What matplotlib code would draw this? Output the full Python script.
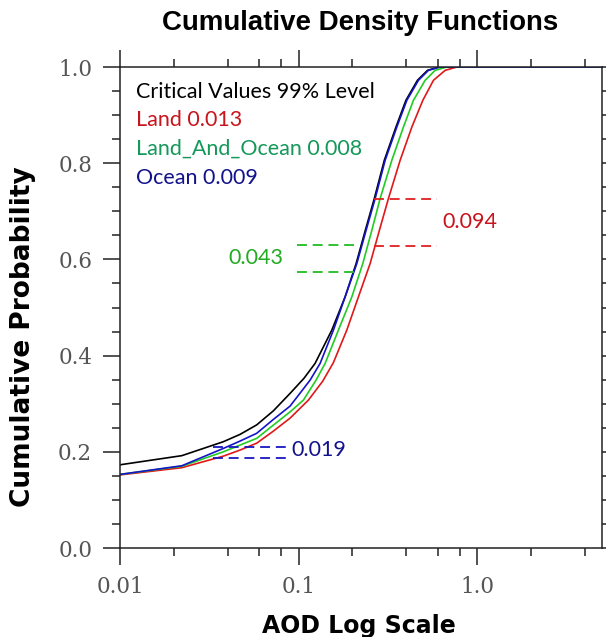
import matplotlib
matplotlib.use("Agg")
import matplotlib.pyplot as plt
from matplotlib.ticker import FixedLocator, NullFormatter

# curves (AOD, cumulative probability)
all_x = [0.01, 0.0222, 0.0379, 0.047, 0.0583, 0.0723, 0.0896, 0.1073, 0.1237, 0.1535, 0.1822,
         0.210, 0.2365, 0.2655, 0.302, 0.351, 0.399, 0.463, 0.527, 0.61, 5.0]
all_y = [0.173, 0.192, 0.221, 0.2362, 0.256, 0.2853, 0.3214, 0.353, 0.3838, 0.453, 0.5221,
         0.5915, 0.6607, 0.7266, 0.8061, 0.8753, 0.9308, 0.9724, 0.9931, 1.0, 1.0]

land_x = [0.01, 0.0222, 0.0379, 0.047, 0.0583, 0.0723, 0.0896, 0.1135, 0.1366, 0.1567, 0.1862,
          0.2163, 0.2516, 0.2836, 0.3185, 0.3704, 0.4308, 0.4963, 0.5692, 0.6619, 0.7694, 5.0]
land_y = [0.152, 0.167, 0.191, 0.2036, 0.218, 0.2431, 0.270, 0.3075, 0.347, 0.3855, 0.453,
          0.5221, 0.5915, 0.6607, 0.7266, 0.8061, 0.8753, 0.9308, 0.9724, 0.9931, 1.0, 1.0]

lando_x = [0.01, 0.0222, 0.0379, 0.047, 0.0583, 0.0723, 0.0896, 0.1064, 0.1253, 0.1408, 0.1671,
           0.1987, 0.2289, 0.2572, 0.2862, 0.3327, 0.3865, 0.4397, 0.5112, 0.5818, 0.6766, 5.0]
lando_y = [0.153, 0.170, 0.200, 0.214, 0.228, 0.2556, 0.283, 0.3075, 0.349, 0.3838, 0.453,
           0.5221, 0.5915, 0.6607, 0.7266, 0.8061, 0.8753, 0.9308, 0.9724, 0.9931, 1.0, 1.0]

ocean_x = [0.01, 0.0222, 0.0379, 0.047, 0.0583, 0.0723, 0.0896, 0.116, 0.132, 0.1567, 0.1822,
           0.2119, 0.2389, 0.2684, 0.3053, 0.3549, 0.4038, 0.469, 0.5335, 0.62, 5.0]
ocean_y = [0.153, 0.171, 0.207, 0.2223, 0.2385, 0.2674, 0.295, 0.349, 0.3838, 0.453, 0.5221,
           0.5915, 0.6607, 0.7266, 0.8061, 0.8753, 0.9308, 0.9724, 0.9931, 1.0, 1.0]

# dashed markers for the biggest gaps
ocean_gap_x = [0.0333, 0.0858]
ocean_gap_y = [0.187, 0.209]
lando_gap_x = [0.0977, 0.216]
lando_gap_y = [0.5745, 0.630]
land_gap_x = [0.263, 0.594]
land_gap_y = [0.6285, 0.7256]

legend_lines = ["Critical Values 99% Level", "Land 0.013", "Land_And_Ocean 0.008", "Ocean 0.009"]
legend_cols = ["black", "#c8141c", "#15985a", "#12128c"]

fig = plt.figure(figsize=(6.06, 6.37), dpi=100)
ax = fig.add_axes([0.198, 0.1397, 0.7954, 0.7551])

ax.plot(all_x, all_y, color="black", lw=1.2)
ax.plot(land_x, land_y, color="#e01818", lw=1.2)
ax.plot(lando_x, lando_y, color="#22cc22", lw=1.2)
ax.plot(ocean_x, ocean_y, color="#1414c8", lw=1.2)

dash = (0, (5.5, 3.2))
for yy in ocean_gap_y:
    ax.plot(ocean_gap_x, [yy, yy], color="#1818c0", lw=1.3, ls=dash)
for yy in lando_gap_y:
    ax.plot(lando_gap_x, [yy, yy], color="#22bb22", lw=1.3, ls=dash)
for yy in land_gap_y:
    ax.plot(land_gap_x, [yy, yy], color="#e02020", lw=1.3, ls=dash)

tfont = ["Lato", "DejaVu Sans"]
ax.text(0.0916, 0.2035, "0.019", color="#12128c", fontsize=15.5, va="center", ha="left", family=tfont)
ax.text(0.0822, 0.602, "0.043", color="#22aa22", fontsize=15.5, va="center", ha="right", family=tfont)
ax.text(0.635, 0.678, "0.094", color="#c8141c", fontsize=15.5, va="center", ha="left", family=tfont)

ypos = [0.9487, 0.8898, 0.8295, 0.7686]
for s, c, yy in zip(legend_lines, legend_cols, ypos):
    ax.text(0.033, yy, s, color=c, fontsize=15.5, va="center", ha="left",
            transform=ax.transAxes, family=tfont)

ax.set_xscale("log")
ax.set_xlim(0.01, 5.0)
ax.set_ylim(0, 1)
ax.xaxis.set_major_locator(FixedLocator([0.01, 0.1, 1.0]))
ax.xaxis.set_minor_locator(FixedLocator([0.02, 0.04, 0.06, 0.08, 0.2, 0.4, 0.6, 0.8, 2, 4]))
ax.xaxis.set_minor_formatter(NullFormatter())
ax.set_xticklabels(["0.01", "0.1", "1.0"])
ax.set_yticks([0, 0.2, 0.4, 0.6, 0.8, 1.0])
ax.set_yticklabels(["0.0", "0.2", "0.4", "0.6", "0.8", "1.0"])
ax.yaxis.set_minor_locator(FixedLocator([0.05, 0.1, 0.15, 0.25, 0.3, 0.35, 0.45, 0.5, 0.55,
                                         0.65, 0.7, 0.75, 0.85, 0.9, 0.95]))

ax.tick_params(which="both", direction="out", top=True, right=True, color="#222222", width=1.1)
ax.tick_params(which="major", length=12, pad=8, labelsize=15.5, labelcolor="#555555")
ax.tick_params(which="minor", length=6)
for lab in ax.get_xticklabels() + ax.get_yticklabels():
    lab.set_family("DejaVu Serif")
for sp in ax.spines.values():
    sp.set_linewidth(1.1)
    sp.set_color("#222222")

fig.text(0.594, 0.964, "Cumulative Density Functions", ha="center", va="center",
         fontsize=19.9, fontweight="bold", family="Liberation Sans")
fig.text(0.593, 0.0068, "AOD Log Scale", ha="center", va="baseline",
         fontsize=17, fontweight="bold", family="DejaVu Sans")
fig.text(0.038, 0.471, "Cumulative Probability", ha="center", va="center", rotation=90,
         fontsize=19, fontweight="bold", family="DejaVu Sans")

fig.savefig("out.png", dpi=100)
